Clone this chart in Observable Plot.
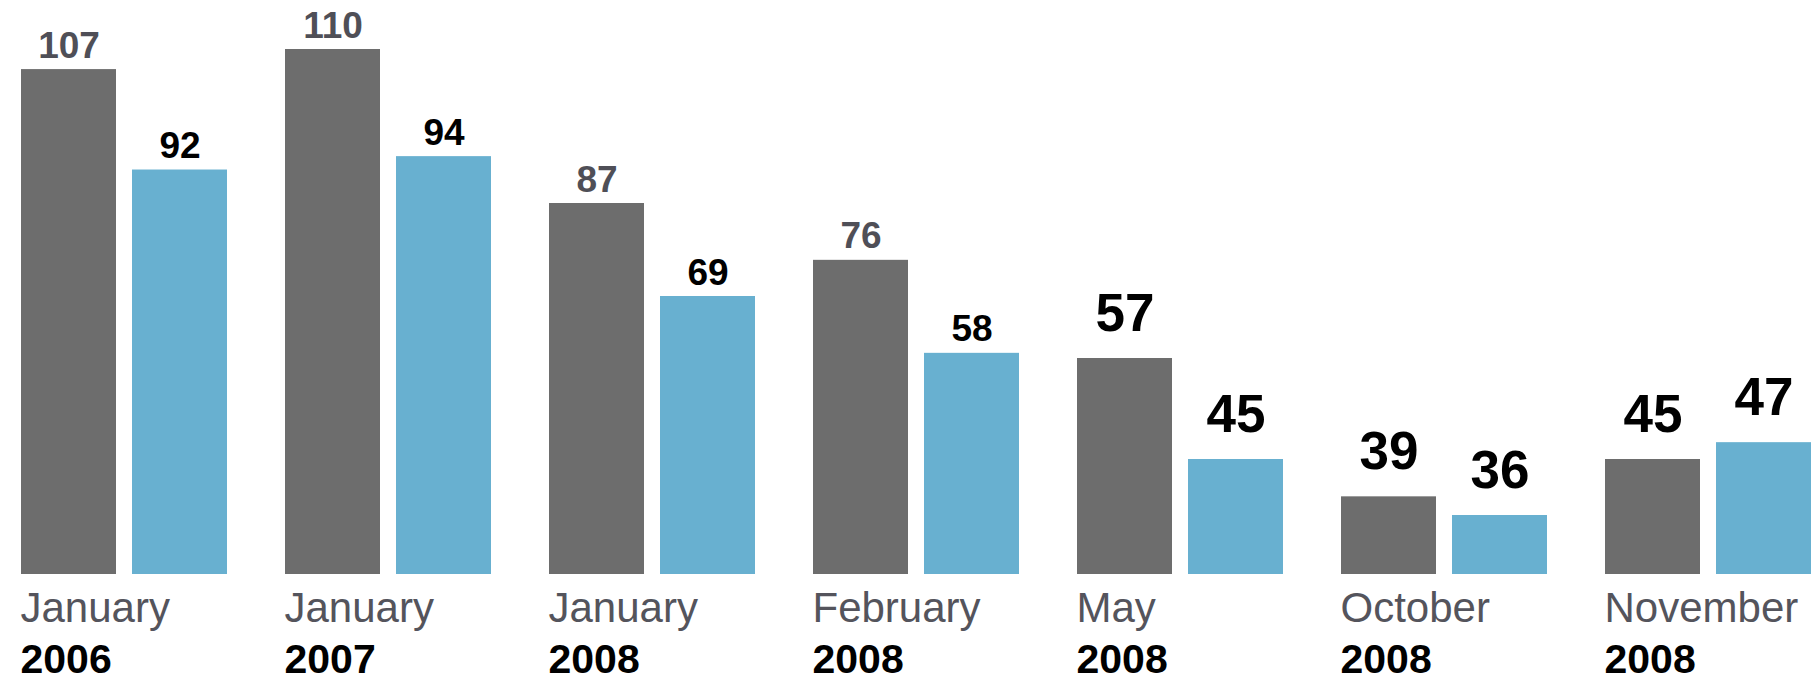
<!DOCTYPE html>
<html>
<head>
<meta charset="utf-8">
<script src="https://cdn.jsdelivr.net/npm/d3@7"></script>
<script src="https://cdn.jsdelivr.net/npm/@observablehq/plot@0.6"></script>
<style>
  html, body { margin: 0; padding: 0; background: #ffffff; }
  svg { display: block; }
</style>
</head>
<body>
<div id="chart"></div>
<script>
// ---- data ----
const months = ["January", "January", "January", "February", "May", "October", "November"];
const years = ["2006", "2007", "2008", "2008", "2008", "2008", "2008"];
const seriesNames = ["Series A", "Series B"];
const seriesAValues = [107, 110, 87, 76, 57, 39, 45];
const seriesBValues = [92, 94, 69, 58, 45, 36, 47];

// ---- tables built from the arrays ----
const periods = months.map((m, i) => ({ key: m + " " + years[i], month: m, year: years[i], index: i }));
const bars = periods.flatMap((p, i) => [
  { key: p.key, series: seriesNames[0], value: seriesAValues[i], index: i },
  { key: p.key, series: seriesNames[1], value: seriesBValues[i], index: i }
]);
const emphasisStart = 4; // periods from May 2008 on have larger value labels
const smallA = bars.filter(d => d.index < emphasisStart && d.series === seriesNames[0]);
const smallB = bars.filter(d => d.index < emphasisStart && d.series === seriesNames[1]);
const large = bars.filter(d => d.index >= emphasisStart);

const font = "'Liberation Sans', Arial, Helvetica, sans-serif";

const chart = Plot.plot({
  width: 1818,
  height: 698,
  marginLeft: 18,
  marginRight: 4,
  marginTop: 0,
  marginBottom: 124,
  style: { fontFamily: font, background: "#ffffff" },
  fx: { domain: periods.map(p => p.key), axis: null, paddingInner: 0.2136, paddingOuter: 0 },
  x: { domain: seriesNames, axis: null, paddingInner: 0.14, paddingOuter: 0 },
  y: { type: "linear", axis: null, domain: [0, 36, 45, 57, 87, 110], range: [574, 515, 459, 358, 203, 49] },
  color: { domain: seriesNames, range: ["#6d6d6d", "#68b0d0"] },
  marks: [
    Plot.barY(bars, { fx: "key", x: "series", y: "value", fill: "series" }),
    Plot.text(smallA, {
      fx: "key", x: "series", y: "value", text: d => String(d.value),
      fontSize: 37, fontWeight: "bold", fill: "#4f4f57", lineAnchor: "bottom", dy: -12
    }),
    Plot.text(smallB, {
      fx: "key", x: "series", y: "value", text: d => String(d.value),
      fontSize: 37, fontWeight: "bold", fill: "#000000", lineAnchor: "bottom", dy: -12
    }),
    Plot.text(large, {
      fx: "key", x: "series", y: "value", text: d => String(d.value),
      fontSize: 53, fontWeight: "bold", fill: "#000000", lineAnchor: "bottom", dy: -28
    }),
    Plot.text(periods, {
      fx: "key", text: "month", frameAnchor: "bottom-left", textAnchor: "start",
      lineAnchor: "bottom", dy: 47, fontSize: 42, fill: "#54545c"
    }),
    Plot.text(periods, {
      fx: "key", text: "year", frameAnchor: "bottom-left", textAnchor: "start",
      lineAnchor: "bottom", dy: 98, fontSize: 41, fontWeight: "bold", fill: "#000000"
    })
  ]
});

document.getElementById("chart").appendChild(chart);
</script>
</body>
</html>
